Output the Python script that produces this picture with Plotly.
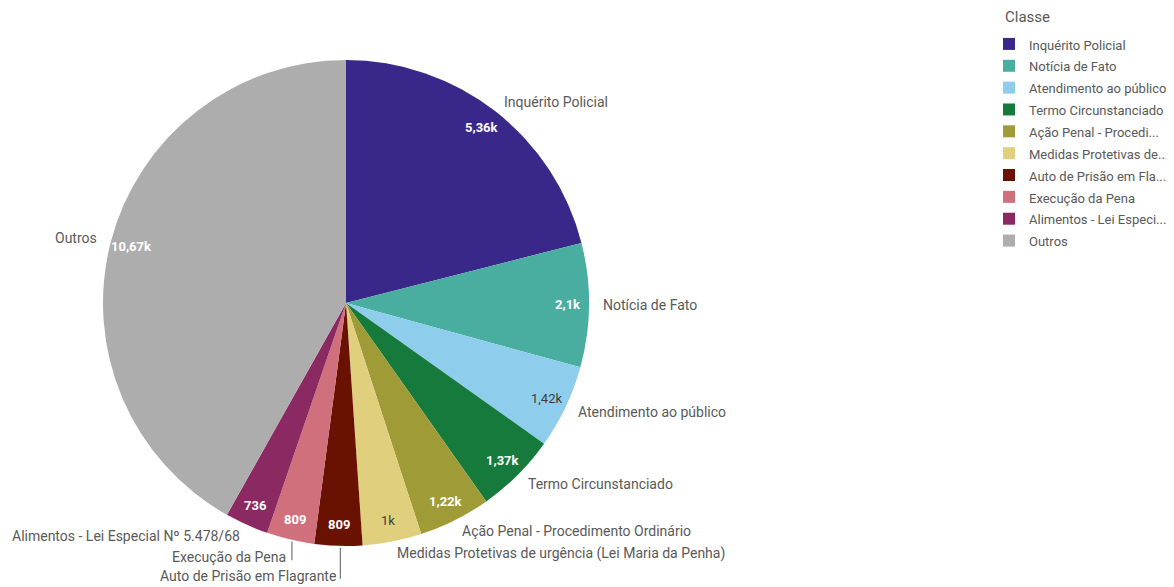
import math
import plotly.graph_objects as go

# ---------------- data ----------------
categories = [
    "Inquérito Policial",
    "Notícia de Fato",
    "Atendimento ao público",
    "Termo Circunstanciado",
    "Ação Penal - Procedimento Ordinário",
    "Medidas Protetivas de urgência (Lei Maria da Penha)",
    "Auto de Prisão em Flagrante",
    "Execução da Pena",
    "Alimentos - Lei Especial Nº 5.478/68",
    "Outros",
]
legend_labels = [
    "Inquérito Policial",
    "Notícia de Fato",
    "Atendimento ao público",
    "Termo Circunstanciado",
    "Ação Penal - Procedi...",
    "Medidas Protetivas de...",
    "Auto de Prisão em Fla...",
    "Execução da Pena",
    "Alimentos - Lei Especi...",
    "Outros",
]
values = [5360, 2100, 1420, 1370, 1220, 1000, 809, 809, 736, 10670]
value_labels = ["5,36k", "2,1k", "1,42k", "1,37k", "1,22k", "1k", "809", "809", "736", "10,67k"]
legend_title = "Classe"

# ---------------- style ----------------
colors = ["#39288a", "#49ad9f", "#8fcdec", "#167a3c", "#9f9c37",
          "#e0d07e", "#6a1202", "#d0707c", "#8b2a62", "#adadad"]
value_text_colors = ["white", "white", "#3d3d3d", "white", "white",
                     "#3d3d3d", "white", "white", "white", "white"]
value_bold = [True, True, False, True, True, False, True, True, True, True]
label_drop = {"Auto de Prisão em Flagrante": 18, "Execução da Pena": 6}

FONT = "Roboto"
W, H = 1174, 587
OFF = 8                             # page body margin offset (pixels)
CX, CY, R = 346, 303, 243          # pie centre / radius in screen pixels
LABEL_GAP = 12
VALUE_INSET = 21


def to_paper(px, py):
    return (px - OFF) / W, 1 - (py - OFF) / H


fig = go.Figure()
dx0, dy0 = to_paper(CX - R, CY + R)
dx1, dy1 = to_paper(CX + R, CY - R)
fig.add_trace(go.Pie(
    labels=[f'<span style="font-size:13px">{t}</span>' for t in legend_labels],
    values=values,
    sort=False,
    direction="clockwise",
    rotation=0,
    marker=dict(colors=colors, line=dict(width=0)),
    textinfo="none",
    hovertext=categories,
    hoverinfo="text+value",
    domain=dict(x=[dx0, dx1], y=[dy0, dy1]),
))

total = sum(values)
cum = 0
annotations = []
shapes = []
for cat, v, vl, tc, b in zip(categories, values, value_labels, value_text_colors, value_bold):
    mid = (cum + v / 2) / total * 2 * math.pi
    cum += v
    s, c = math.sin(mid), math.cos(mid)

    # value inside slice
    vx, vy = to_paper(CX + (R - VALUE_INSET) * s, CY - (R - VALUE_INSET) * c)
    annotations.append(dict(
        x=vx, y=vy, xref="paper", yref="paper", showarrow=False,
        text=f"<b>{vl}</b>" if b else vl,
        font=dict(family=FONT, size=13, color=tc),
        xanchor="center", yanchor="middle",
    ))

    # category label outside
    lx = CX + (R + LABEL_GAP) * s
    ly = CY - (R + LABEL_GAP) * c
    drop = label_drop.get(cat, 0)
    ly += drop
    px, py = to_paper(lx, ly)
    annotations.append(dict(
        x=px, y=py, xref="paper", yref="paper", showarrow=False,
        text=cat,
        font=dict(family=FONT, size=14, color="#595959"),
        xanchor="left" if s > 0.02 else "right", yanchor="middle",
    ))
    if drop:
        ex = CX + (R + 2) * s + 2
        ey = CY - (R + 2) * c
        x0, y0 = to_paper(ex, ey)
        x1, y1 = to_paper(ex, ly + 3)
        shapes.append(dict(type="line", xref="paper", yref="paper",
                           x0=x0, y0=y0, x1=x1, y1=y1,
                           line=dict(color="#595959", width=1)))

# legend title as text
tx, ty = to_paper(1003, 17)
annotations.append(dict(
    x=tx, y=ty, xref="paper", yref="paper", showarrow=False,
    text=legend_title, font=dict(family=FONT, size=15, color="#595959"),
    xanchor="left", yanchor="middle",
))
lgx, lgy = to_paper(989, 28)

fig.update_layout(
    width=W, height=H,
    margin=dict(l=0, r=0, t=0, b=0),
    paper_bgcolor="white",
    plot_bgcolor="white",
    font=dict(family=FONT, color="#595959"),
    annotations=annotations,
    shapes=shapes,
    legend=dict(
        font=dict(family=FONT, size=14.5, color="#595959"),
        x=lgx, y=lgy, xanchor="left", yanchor="top",
        tracegroupgap=0, itemclick=False,
    ),
)

fig.write_html("out.html")
